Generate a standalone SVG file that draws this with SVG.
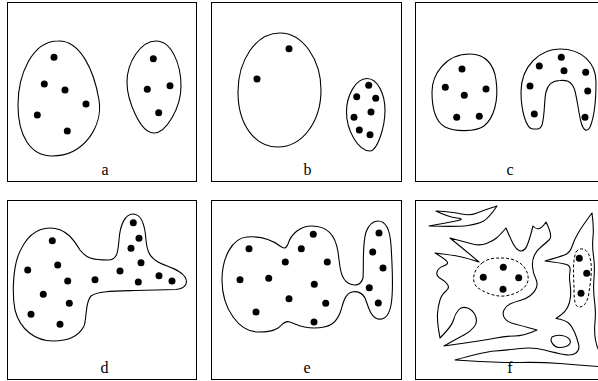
<svg xmlns="http://www.w3.org/2000/svg" width="598" height="381" viewBox="0 0 598 381">
<style>
.frame{fill:none;stroke:#000;stroke-width:1}
.blob{fill:none;stroke:#000;stroke-width:1.1;stroke-linejoin:round}
.dash{fill:none;stroke:#000;stroke-width:1;stroke-dasharray:3 2}
.dot{fill:#000}
.lbl{font-family:"Liberation Serif","Times New Roman",serif;font-size:16px;text-anchor:middle;fill:#000}
</style>
<rect width="598" height="381" fill="#fff"/>

<g id="panel-a">
<rect class="frame" x="7.5" y="2.5" width="189" height="179"/>
<g id="a-cluster1">
<path class="blob" d="M 58,41 C 80,40 94,70 99,100 C 103,125 85,156 52,156 C 30,156 18,135 18,105 C 18,75 32,41 58,41 Z"/>
<circle class="dot" cx="54" cy="57.3" r="3.5"/><circle class="dot" cx="44.3" cy="84" r="3.5"/><circle class="dot" cx="65" cy="90" r="3.5"/><circle class="dot" cx="86" cy="104" r="3.5"/><circle class="dot" cx="37.3" cy="115" r="3.5"/><circle class="dot" cx="67.3" cy="131" r="3.5"/>
</g>
<g id="a-cluster2">
<path class="blob" d="M 156,41 C 172,41 181,65 181,86 C 181,108 166,133 154,133 C 140,133 127,100 127,82 C 127,62 141,41 156,41 Z"/>
<circle class="dot" cx="153.3" cy="58.7" r="3.5"/><circle class="dot" cx="147.3" cy="89.3" r="3.5"/><circle class="dot" cx="170" cy="85.7" r="3.5"/><circle class="dot" cx="158.7" cy="112.7" r="3.5"/>
</g>
<text class="lbl" x="105" y="175">a</text>
</g>

<g id="panel-b">
<rect class="frame" x="211.5" y="2.5" width="190" height="179"/>
<g id="b-cluster1">
<path class="blob" d="M 280,33 C 303,33 321,60 321,90 C 321,122 302,147 278,147 C 255,147 238,125 238,92 C 238,60 256,33 280,33 Z"/>
<circle class="dot" cx="289" cy="48.7" r="3.5"/><circle class="dot" cx="257" cy="79" r="3.5"/>
</g>
<g id="b-cluster2">
<path class="blob" d="M 367,78.5 C 378,78.5 385,95 385,110 C 385,128 377,151 370,151 C 358,151 346.5,130 346.5,112 C 346.5,95 356,78.5 367,78.5 Z"/>
<circle class="dot" cx="368.7" cy="85.3" r="3.5"/><circle class="dot" cx="356.7" cy="96.7" r="3.5"/><circle class="dot" cx="375.7" cy="98.3" r="3.5"/><circle class="dot" cx="371" cy="112" r="3.5"/><circle class="dot" cx="354" cy="117.3" r="3.5"/><circle class="dot" cx="359.3" cy="130" r="3.5"/><circle class="dot" cx="370" cy="134.7" r="3.5"/>
</g>
<text class="lbl" x="307.5" y="175">b</text>
</g>

<g id="panel-c">
<rect class="frame" x="415.5" y="2.5" width="190" height="179"/>
<g id="c-cluster1">
<path class="blob" d="M 470,54 C 485,54 494,64 496,80 C 499,100 494,118 484,126 C 475,132 455,132 445,127 C 436,122 432,108 432,92 C 432,75 445,54 470,54 Z"/>
<circle class="dot" cx="462" cy="69" r="3.5"/><circle class="dot" cx="445.3" cy="87.3" r="3.5"/><circle class="dot" cx="486" cy="89" r="3.5"/><circle class="dot" cx="464.3" cy="95.3" r="3.5"/><circle class="dot" cx="456.7" cy="117.3" r="3.5"/><circle class="dot" cx="479.3" cy="116.3" r="3.5"/>
</g>
<g id="c-cluster2">
<path class="blob" d="M 533,129 C 526,129 521,110 521,92 C 521,66 540,49 560,49 C 582,49 596,63 596,82 C 596,100 594,118 590,127 C 587,133 583,130 581,122 C 578,110 577,96 574,88 C 570,80 565,80 560,80.5 C 552,80.5 548,84 546,92 C 544,100 545,115 542,125 C 540,130 537,129 533,129 Z"/>
<circle class="dot" cx="561.3" cy="57.3" r="3.5"/><circle class="dot" cx="539.3" cy="66" r="3.5"/><circle class="dot" cx="564" cy="70.7" r="3.5"/><circle class="dot" cx="585.7" cy="72.3" r="3.5"/><circle class="dot" cx="530" cy="86" r="3.5"/><circle class="dot" cx="587.7" cy="91" r="3.5"/><circle class="dot" cx="534.3" cy="114" r="3.5"/><circle class="dot" cx="585" cy="117.3" r="3.5"/>
</g>
<text class="lbl" x="510" y="175">c</text>
</g>

<g id="panel-d">
<rect class="frame" x="7.5" y="200.5" width="189" height="179"/>
<g id="d-cluster">
<path class="blob" d="M 50,228 C 66,228 74,240 80,250 C 86,258 92,260 108,260 C 118,260 118,250 119,240 C 120,225 125,214 133,214 C 142,214 145,225 146,240 C 147,252 150,258 160,263 C 168,267 180,269 185,277 C 189,284 184,289 176,289.5 L 135,290.5 C 115,291 97,291 91,296 C 85,302 87,318 84,326 C 78,338 65,341 53,341 C 36,341 20,330 15,310 C 12,295 13,270 18,256 C 25,238 36,228 50,228 Z"/>
<circle class="dot" cx="52.3" cy="240.7" r="3.5"/><circle class="dot" cx="133.3" cy="222.7" r="3.5"/><circle class="dot" cx="139" cy="238.3" r="3.5"/><circle class="dot" cx="131" cy="248.3" r="3.5"/><circle class="dot" cx="27.7" cy="270" r="3.5"/><circle class="dot" cx="57.7" cy="265" r="3.5"/><circle class="dot" cx="141" cy="262.7" r="3.5"/><circle class="dot" cx="120" cy="271" r="3.5"/><circle class="dot" cx="159" cy="275.7" r="3.5"/><circle class="dot" cx="172" cy="281" r="3.5"/><circle class="dot" cx="67.7" cy="281" r="3.5"/><circle class="dot" cx="95" cy="279.7" r="3.5"/><circle class="dot" cx="138.3" cy="282" r="3.5"/><circle class="dot" cx="43.3" cy="294.3" r="3.5"/><circle class="dot" cx="69.3" cy="303.3" r="3.5"/><circle class="dot" cx="31" cy="314.3" r="3.5"/><circle class="dot" cx="60" cy="324.3" r="3.5"/>
</g>
<text class="lbl" x="104.5" y="373">d</text>
</g>

<g id="panel-e">
<rect class="frame" x="211.5" y="200.5" width="190" height="179"/>
<g id="e-cluster">
<path class="blob" d="M 247,237 C 260,236 272,240 280,246 C 284,249 286,249 288,244 C 291,234 300,226 312,226 C 330,226 336,238 338,252 C 340,266 340,278 348,283 C 355,287 361,285 363,278 C 364,265 362,246 366,232 C 369,224 374,221 378,221 C 386,221 390,230 391,245 C 392,262 394,290 391,305 C 389,316 384,320 378,319 C 370,317 368,305 365,298 C 362,292 356,291 352,292 C 344,294 343,305 340,313 C 336,323 330,328 314,328 C 302,328 296,324 290,322 C 285,320 282,325 278,328 C 272,332 265,332 258,332 C 240,332 222,310 222,280 C 222,258 232,238 247,237 Z"/>
<circle class="dot" cx="249" cy="248.7" r="3.5"/><circle class="dot" cx="313.3" cy="234.3" r="3.5"/><circle class="dot" cx="301.3" cy="248.7" r="3.5"/><circle class="dot" cx="285.3" cy="262" r="3.5"/><circle class="dot" cx="327.3" cy="262" r="3.5"/><circle class="dot" cx="379" cy="233" r="3.5"/><circle class="dot" cx="372.7" cy="252" r="3.5"/><circle class="dot" cx="383" cy="268" r="3.5"/><circle class="dot" cx="240" cy="279.7" r="3.5"/><circle class="dot" cx="268.7" cy="278.3" r="3.5"/><circle class="dot" cx="314.3" cy="284.3" r="3.5"/><circle class="dot" cx="369.3" cy="287.7" r="3.5"/><circle class="dot" cx="289" cy="298.7" r="3.5"/><circle class="dot" cx="325.7" cy="303.3" r="3.5"/><circle class="dot" cx="378.3" cy="303" r="3.5"/><circle class="dot" cx="256" cy="312" r="3.5"/><circle class="dot" cx="314" cy="322" r="3.5"/>
</g>
<text class="lbl" x="307" y="373">e</text>
</g>

<g id="panel-f">
<rect class="frame" x="415.5" y="200.5" width="190" height="179"/>
<g id="f-shape-top">
<path class="blob" d="M 436,211 Q 453,212 461.5,214 Q 470,216 477,213 Q 484,210 497,206 Q 489,218 483.5,221 Q 478,224 468,225.5 Q 458,227 429,226 Q 446,223 456,221 Q 466,219 457,218 Q 448,217 436,211 Z"/>
</g>
<g id="f-shape-left">
<path class="blob" d="M 450,238 Q 465,242 472.5,244 Q 480,246 486.5,243.5 Q 493,241 496.5,238 Q 500,235 506,228 Q 511,240 513.5,244.5 Q 516,249 519,250.5 Q 522,252 525,249 Q 528,246 533,226 Q 539,233 546,222 Q 553,236 549.5,239.5 Q 546,243 541.5,246.5 Q 537,250 534.5,255 Q 532,260 532.5,266.5 Q 533,273 535.5,278 Q 538,283 536.5,287.5 Q 535,292 530.5,295.5 Q 526,299 520,300.5 Q 514,302 510,304 Q 506,306 504,310 Q 502,314 504.5,318 Q 507,322 513,323.5 Q 519,325 537,330 Q 524,336 514.5,336 Q 505,336 496,338 Q 487,340 444,346 Q 458,338 464,335 Q 470,332 474,327 Q 478,322 475.5,316 Q 473,310 467.5,308 Q 462,306 458.5,310 Q 455,314 453.5,320 Q 452,326 440,338 Q 437,322 437.5,314 Q 438,306 440,300 Q 442,294 446,291 Q 450,288 447.5,284.5 Q 445,281 440.5,278.5 Q 436,276 437,272 Q 438,268 443.5,266 Q 449,264 447,261.5 Q 445,259 435,253 Q 452,255 459.5,256.5 Q 467,258 479,262 Q 466,251 450,238 Z"/>
</g>
<g id="f-shape-right">
<path class="blob" d="M 592,213 Q 594,228 593,237 Q 592,246 593.5,256 Q 595,266 594,278 Q 593,290 594.5,301 Q 596,312 595,322 Q 594,332 595.5,340 Q 597,348 600,353 L 603,358 L 603,367 Q 580,365 560,363.5 Q 540,362 520,362.5 Q 500,363 455,360 Q 483,352 495,351 Q 507,350 520,348.5 Q 533,347 544.5,350 Q 556,353 564,354.5 Q 572,356 576,353 Q 580,350 578.5,344 Q 577,338 574.5,332 Q 572,326 568.5,323 Q 565,320 556,318.5 Q 558,317 561.5,314.5 Q 565,312 567.5,307.5 Q 570,303 570.5,296.5 Q 571,290 570,283.5 Q 569,277 570,271.5 Q 571,266 566.5,264.5 Q 562,263 545,261 Q 559,257 564.5,255 Q 570,253 572,246.5 Q 574,240 578.5,232.5 Q 583,225 592,213 Z"/>
</g>
<g id="f-shape-small">
<path class="blob" d="M 552,337 C 557,334 567,335 570,340 C 572,345 565,348 559,347.5 C 554,347 549,341 552,337 Z"/>
</g>
<g id="f-cluster1">
<path class="dash" d="M 482,263 C 488,258 496,258 502,258 C 515,258 526,264 528,276 C 530,287 518,294 505,296 C 494,297 484,292 478,288 C 472,284 471,272 482,263 Z"/>
<circle class="dot" cx="483.3" cy="277.3" r="3.5"/><circle class="dot" cx="503.3" cy="267.3" r="3.5"/><circle class="dot" cx="518.7" cy="277.7" r="3.5"/><circle class="dot" cx="503" cy="289.3" r="3.5"/>
</g>
<g id="f-cluster2">
<path class="dash" d="M 576,252 C 580,247 586,248 589,255 C 593,264 591,280 589,292 C 588,302 584,307 579,307 C 575,307 574,300 574,290 C 574,278 572,262 576,252 Z"/>
<circle class="dot" cx="579.3" cy="258.3" r="3.5"/><circle class="dot" cx="586.7" cy="273.3" r="3.5"/><circle class="dot" cx="581" cy="293.3" r="3.5"/>
</g>
<text class="lbl" x="510" y="373">f</text>
</g>
</svg>
